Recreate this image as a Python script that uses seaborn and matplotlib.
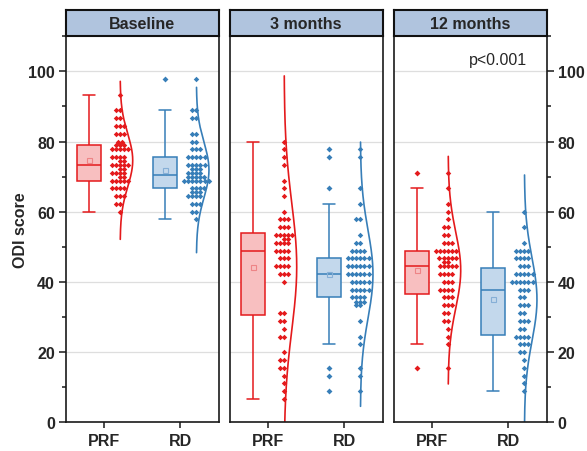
import numpy as np
import matplotlib
matplotlib.use("Agg")
import matplotlib.pyplot as plt
import matplotlib.transforms as mtransforms
import seaborn as sns

# ---------------- data (ODI score, %) : value + number of patients ----------------
panels = ["Baseline", "3 months", "12 months"]
groups = ["PRF", "RD"]

prf_base_scores = [60.0, 62.2, 64.4, 66.7, 68.9, 70.0, 71.1, 72.2, 73.3, 74.4, 75.6, 77.8, 79.0, 80.0,
                   82.2, 84.4, 86.7, 88.9, 93.3]
prf_base_counts = [1, 2, 3, 4, 5, 2, 4, 2, 5, 2, 4, 5, 3, 2,
                   3, 3, 2, 2, 1]

rd_base_scores = [57.8, 60.0, 62.2, 64.4, 65.6, 66.7, 68.9, 70.0, 71.1, 72.2, 73.3, 75.6, 77.8, 80.0,
                  82.2, 86.7, 88.9, 97.8]
rd_base_counts = [1, 2, 3, 4, 3, 4, 7, 5, 4, 3, 5, 5, 3, 2,
                  2, 2, 2, 1]

prf_3m_scores = [6.7, 8.9, 11.1, 13.3, 15.6, 17.8, 20.0, 24.4, 26.7, 28.9, 31.1, 40.0, 42.2, 44.4,
                 46.7, 48.9, 51.1, 52.2, 53.3, 55.6, 57.8, 60.0, 64.4, 66.7, 68.9, 73.3, 75.6, 77.8, 80.0]
prf_3m_counts = [1, 1, 1, 1, 2, 2, 1, 2, 1, 2, 2, 1, 3, 4,
                 3, 4, 4, 2, 5, 3, 3, 1, 1, 1, 1, 1, 1, 1, 1]

rd_3m_scores = [8.9, 13.3, 15.6, 22.2, 24.4, 28.9, 33.3, 34.4, 35.6, 37.8, 40.0, 42.2, 44.4, 46.7, 48.9,
                51.1, 53.3, 57.8, 62.2, 66.7, 75.6, 77.8]
rd_3m_counts = [1, 1, 1, 1, 1, 1, 2, 3, 4, 5, 5, 6, 6, 6, 4,
                2, 1, 2, 1, 1, 1, 1]

prf_12m_scores = [15.6, 22.2, 24.4, 26.7, 28.9, 31.1, 33.3, 35.6, 37.8, 40.0, 42.2, 44.4, 45.6, 46.7, 48.9,
                  51.1, 53.3, 55.6, 57.8, 60.0, 62.2, 66.7, 71.1]
prf_12m_counts = [1, 1, 1, 1, 2, 2, 3, 3, 4, 3, 4, 5, 2, 5, 6,
                  3, 2, 2, 1, 1, 1, 1, 1]

rd_12m_scores = [8.9, 11.1, 13.3, 15.6, 17.8, 20.0, 22.2, 24.4, 26.7, 28.9, 31.1, 33.3, 35.6, 37.8,
                 40.0, 42.2, 44.4, 46.7, 48.9, 51.1, 55.6, 60.0]
rd_12m_counts = [1, 1, 1, 1, 1, 2, 3, 4, 2, 3, 2, 3, 2, 3,
                 6, 5, 3, 4, 4, 1, 1, 1]

p_text = "p<0.001"

data = {
    ("Baseline", "PRF"): (prf_base_scores, prf_base_counts),
    ("Baseline", "RD"): (rd_base_scores, rd_base_counts),
    ("3 months", "PRF"): (prf_3m_scores, prf_3m_counts),
    ("3 months", "RD"): (rd_3m_scores, rd_3m_counts),
    ("12 months", "PRF"): (prf_12m_scores, prf_12m_counts),
    ("12 months", "RD"): (rd_12m_scores, rd_12m_counts),
}

# ---------------- styling ----------------
sns.set_theme(style="ticks")
plt.rcParams["font.family"] = ["Liberation Sans", "DejaVu Sans"]

dark = {"PRF": "#E41A1C", "RD": "#377EB8"}
light = {"PRF": "#F8BFC0", "RD": "#C3D8EC"}
meanc = {"PRF": "#EE8486", "RD": "#86AFD6"}
header_fc = "#B0C4DE"
FS = 11.5

W, H = 587, 452
fig = plt.figure(figsize=(W / 100, H / 100), dpi=100)
lefts = [66, 230, 394]
pw = 152.5
top, bottom, htop = 37.3, 423.3, 11.0

box_off, swarm_off, curve_amp = -0.2, 0.21, 0.165

for pi, panel in enumerate(panels):
    l = lefts[pi]
    ax = fig.add_axes([l / W, 1 - bottom / H, pw / W, (bottom - top) / H])
    hax = fig.add_axes([l / W, 1 - top / H, pw / W, (top - htop) / H])

    for gi, grp in enumerate(groups):
        scores, counts = data[(panel, grp)]
        vals = np.repeat(np.asarray(scores, float), counts)
        n = len(vals)
        sns.boxplot(
            x=np.full(n, gi + box_off), y=vals, native_scale=True, orient="x",
            width=0.32, color=light[grp], linecolor=dark[grp], linewidth=1.1,
            saturation=1, whis=1.5, showmeans=True,
            meanprops=dict(marker="s", markerfacecolor="none", markeredgecolor=meanc[grp],
                           markersize=3.6, markeredgewidth=0.8),
            flierprops=dict(marker="D", markerfacecolor=dark[grp], markeredgecolor=dark[grp],
                            markersize=3.0, markeredgewidth=0),
            ax=ax,
        )
        sns.swarmplot(
            x=np.full(n, gi + swarm_off), y=vals, native_scale=True, orient="x",
            color=dark[grp], marker="D", size=2.8, linewidth=0, ax=ax,
        )
        m, s = vals.mean(), vals.std(ddof=1)
        ys = np.linspace(m - 3 * s, m + 3 * s, 300)
        pdf = np.exp(-0.5 * ((ys - m) / s) ** 2)
        xs = gi + swarm_off + curve_amp * pdf
        sns.lineplot(x=xs, y=ys, sort=False, estimator=None, orient="y",
                     color=dark[grp], linewidth=1.2, ax=ax)

    ax.set_xlim(-0.5, 1.5)
    ax.set_ylim(0, 110)
    ax.set_xticks([0, 1])
    ax.set_xticklabels(groups, fontsize=FS, fontweight="bold")
    ax.set_yticks(np.arange(0, 101, 20))
    ax.set_yticks(np.arange(10, 111, 20), minor=True)
    ax.set_yticklabels([str(v) for v in range(0, 101, 20)], fontsize=FS, fontweight="bold")
    ax.set_xlabel("")
    ax.set_ylabel("")
    ax.yaxis.grid(True, which="major", color="#DEDEDE", linewidth=0.9)
    ax.set_axisbelow(True)
    for sp in ax.spines.values():
        sp.set_visible(True)
        sp.set_color("#1a1a1a")
        sp.set_linewidth(1.2)
    ax.tick_params(axis="x", which="both", bottom=True, top=False, direction="out",
                   length=4.5, width=1.1, color="#1a1a1a", pad=3)
    ax.tick_params(axis="x", which="minor", bottom=False)
    if pi == 0:
        ax.tick_params(axis="y", which="both", left=True, right=False, labelleft=True,
                       labelright=False, direction="out", width=1.1, color="#1a1a1a", pad=3)
        ax.tick_params(axis="y", which="major", length=5)
        ax.tick_params(axis="y", which="minor", length=3)
        ax.set_ylabel("ODI score", fontsize=FS, fontweight="bold", labelpad=0)
    elif pi == 2:
        ax.tick_params(axis="y", which="both", left=False, right=True, labelleft=False,
                       labelright=True, direction="out", width=1.1, color="#1a1a1a", pad=3)
        ax.tick_params(axis="y", which="major", length=5)
        ax.tick_params(axis="y", which="minor", length=3)
        trans = mtransforms.blended_transform_factory(ax.transAxes, ax.transData)
        ax.text(0.872, 103.5, p_text, transform=trans, ha="right", va="center", fontsize=FS)
    else:
        ax.tick_params(axis="y", which="both", left=False, right=False, labelleft=False,
                       labelright=False)

    hax.set_facecolor(header_fc)
    hax.set_xticks([])
    hax.set_yticks([])
    for sp in hax.spines.values():
        sp.set_visible(True)
        sp.set_color("#111111")
        sp.set_linewidth(1.5)
    hax.text(0.5, 0.5, panel, transform=hax.transAxes, ha="center", va="center",
             fontsize=FS, fontweight="bold")

fig.savefig("out.png", dpi=100)
